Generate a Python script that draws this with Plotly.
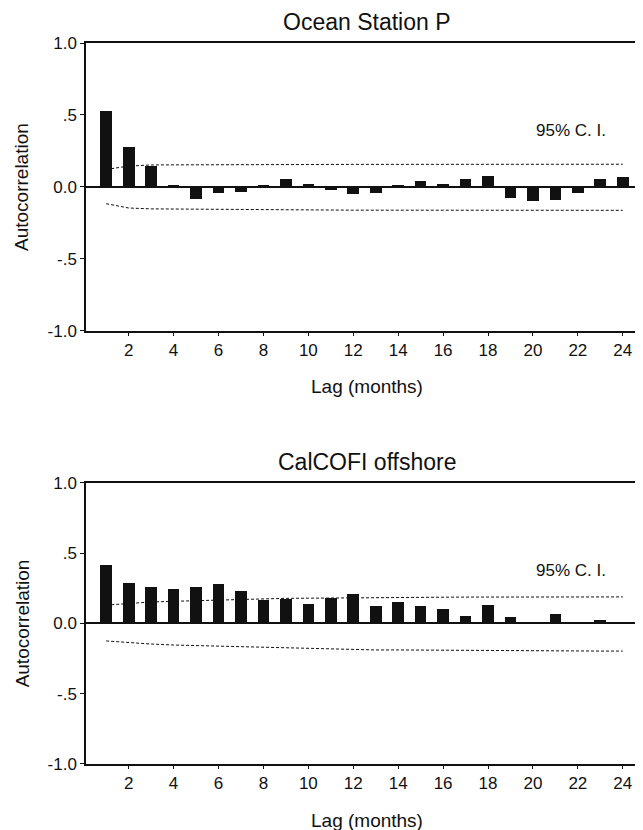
import plotly.graph_objects as go

lags = list(range(1, 25))
tick_vals = [2, 4, 6, 8, 10, 12, 14, 16, 18, 20, 22, 24]
y_tick_vals = [-1.0, -0.5, 0.0, 0.5, 1.0]
y_tick_text = ["-1.0", "-.5", "0.0", ".5", "1.0"]

ocean_acf = [0.53, 0.28, 0.145, 0.01, -0.08, -0.04, -0.035, 0.007, 0.053, 0.02, -0.023, -0.046,
             -0.04, 0.016, 0.044, 0.02, 0.058, 0.076, -0.076, -0.097, -0.088, -0.04, 0.058, 0.069]
ocean_ci_upper = [0.122, 0.145, 0.153, 0.154, 0.155, 0.156, 0.156, 0.156, 0.156, 0.156, 0.156, 0.157,
                  0.157, 0.157, 0.157, 0.157, 0.157, 0.157, 0.158, 0.158, 0.158, 0.158, 0.158, 0.158]
ocean_ci_lower = [-0.116, -0.146, -0.152, -0.153, -0.156, -0.160, -0.160, -0.160, -0.160, -0.160, -0.160, -0.161,
                  -0.161, -0.161, -0.161, -0.161, -0.161, -0.161, -0.162, -0.162, -0.162, -0.162, -0.162, -0.162]

calcofi_acf = [0.42, 0.29, 0.257, 0.243, 0.257, 0.283, 0.229, 0.171, 0.174, 0.14, 0.183, 0.21,
               0.124, 0.152, 0.126, 0.102, 0.057, 0.136, 0.05, 0.014, 0.067, 0.005, 0.029, 0.014]
calcofi_ci_upper = [0.13, 0.143, 0.152, 0.157, 0.162, 0.167, 0.171, 0.175, 0.178, 0.179, 0.181, 0.183,
                    0.184, 0.185, 0.186, 0.186, 0.187, 0.187, 0.188, 0.188, 0.188, 0.188, 0.188, 0.188]
calcofi_ci_lower = [-0.125, -0.137, -0.147, -0.154, -0.158, -0.163, -0.168, -0.173, -0.175, -0.18, -0.182, -0.184,
                    -0.189, -0.189, -0.19, -0.19, -0.196, -0.196, -0.196, -0.197, -0.197, -0.197, -0.197, -0.197]

titles = ["Ocean Station P", "CalCOFI offshore"]
FONT = "Liberation Sans, Arial, sans-serif"
INK = "#111111"

fig = go.Figure()

panels = [
    (ocean_acf, ocean_ci_upper, ocean_ci_lower, "x", "y"),
    (calcofi_acf, calcofi_ci_upper, calcofi_ci_lower, "x2", "y2"),
]
for acf, up, lo, xa, ya in panels:
    fig.add_trace(go.Bar(x=lags, y=acf, width=0.52, marker=dict(color=INK, line=dict(width=0)),
                         xaxis=xa, yaxis=ya, showlegend=False))
    for ci in (up, lo):
        fig.add_trace(go.Scatter(x=lags, y=ci, mode="lines",
                                 line=dict(color=INK, width=1, dash="3px,2px"),
                                 xaxis=xa, yaxis=ya, showlegend=False))

top_dom = [0.6006, 1.0]
bot_dom = [0.0, 0.3901]

xcommon = dict(range=[0.1, 24.9], tickvals=tick_vals, ticks="outside", ticklen=3, tickcolor=INK,
               showline=True, linecolor=INK, linewidth=1.5, mirror=True, showgrid=False,
               zeroline=False, tickfont=dict(family=FONT, size=17, color=INK))
ycommon = dict(range=[-1, 1], tickvals=y_tick_vals, ticktext=y_tick_text, ticks="outside",
               ticklen=4, tickcolor=INK, showline=True, linecolor=INK, linewidth=1.5,
               showgrid=False, zeroline=True, zerolinecolor=INK, zerolinewidth=1.5,
               tickfont=dict(family=FONT, size=17, color=INK))

# page body has an 8px default margin, so the figure is 8px smaller than the window
fig.update_layout(
    width=635, height=822,
    margin=dict(l=78, r=0, t=35, b=66),
    paper_bgcolor="white", plot_bgcolor="white",
    bargap=0,
    xaxis=dict(**xcommon, anchor="y"),
    yaxis=dict(**ycommon, domain=top_dom, anchor="x"),
    xaxis2=dict(**xcommon, anchor="y2"),
    yaxis2=dict(**ycommon, domain=bot_dom, anchor="x2"),
)

ann = []
for title, dom in zip(titles, [top_dom, bot_dom]):
    ann.append(dict(text=title, x=0.5045, y=dom[1], xref="paper", yref="paper",
                    xanchor="center", yanchor="middle", yshift=21, showarrow=False,
                    font=dict(family=FONT, size=23, color=INK)))
    ann.append(dict(text="Lag (months)", x=0.5045, y=dom[0], xref="paper", yref="paper",
                    xanchor="center", yanchor="middle", yshift=-56, showarrow=False,
                    font=dict(family=FONT, size=19, color=INK)))
    ann.append(dict(text="Autocorrelation", x=0, y=(dom[0] + dom[1]) / 2, xref="paper", yref="paper",
                    xanchor="center", yanchor="middle", xshift=-64, textangle=-90, showarrow=False,
                    font=dict(family=FONT, size=19, color=INK)))
for xa, ya, yv in [("x", "y", 0.39), ("x2", "y2", 0.378)]:
    ann.append(dict(text="95% C. I.", x=21.7, y=yv, xref=xa, yref=ya, xanchor="center",
                    yanchor="middle", showarrow=False, font=dict(family=FONT, size=17, color=INK)))
fig.update_layout(annotations=ann)

fig.write_html("out.html")
